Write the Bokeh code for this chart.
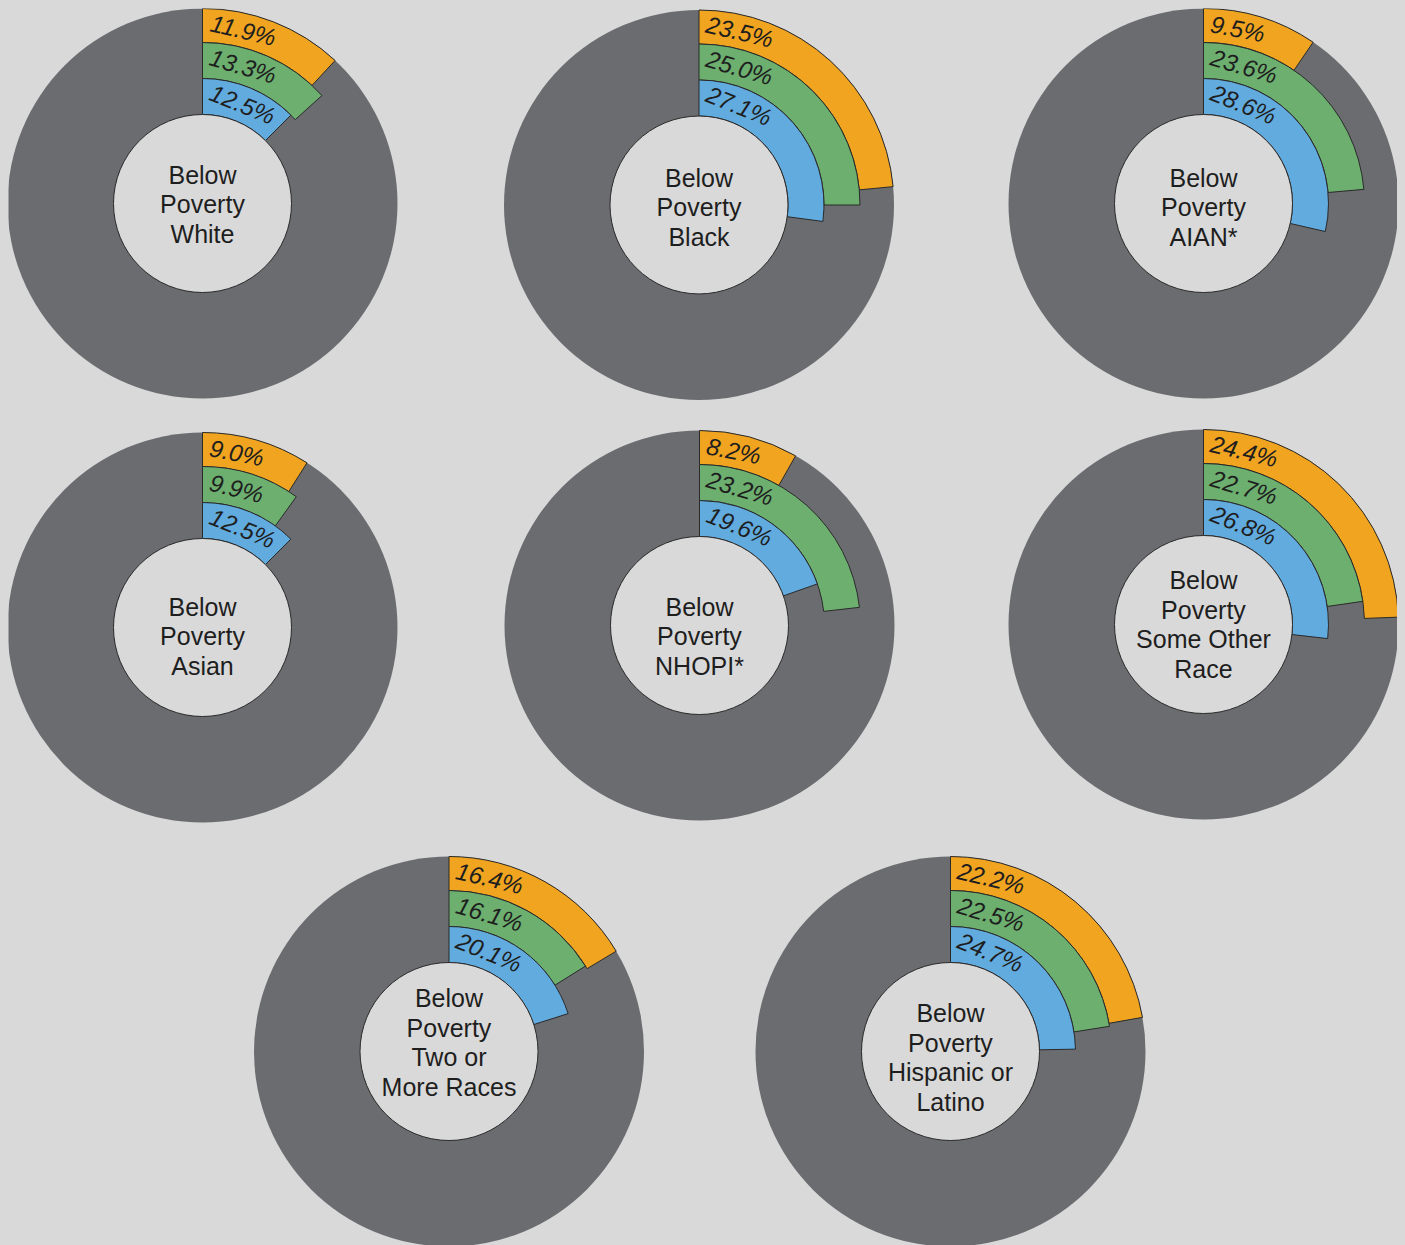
import math
from bokeh.plotting import figure
from bokeh.models import Range1d, ColumnDataSource
from bokeh.core.properties import value
from bokeh.embed import file_html
from bokeh.resources import INLINE

# ---------------- data ----------------
groups = ["White", "Black", "AIAN*", "Asian", "NHOPI*",
          "Some Other Race", "Two or More Races", "Hispanic or Latino"]
center_labels = [
    "Below\nPoverty\nWhite",
    "Below\nPoverty\nBlack",
    "Below\nPoverty\nAIAN*",
    "Below\nPoverty\nAsian",
    "Below\nPoverty\nNHOPI*",
    "Below\nPoverty\nSome Other\nRace",
    "Below\nPoverty\nTwo or\nMore Races",
    "Below\nPoverty\nHispanic or\nLatino",
]
# inner ring (blue), middle ring (green), outer ring (orange), percent below poverty
blue_pct = [12.5, 27.1, 28.6, 12.5, 19.6, 26.8, 20.1, 24.7]
green_pct = [13.3, 25.0, 23.6, 9.9, 23.2, 22.7, 16.1, 22.5]
orange_pct = [11.9, 23.5, 9.5, 9.0, 8.2, 24.4, 16.4, 22.2]

# ---------------- layout / style ----------------
cx = [202, 698.5, 1203, 202, 699, 1203, 448.5, 950]
cy = [203, 204.5, 203, 627, 625, 624, 1051, 1051]
text_cy = [204, 207, 207, 636, 636, 624, 1042, 1057]
radii = [89, 125, 161, 195]
BG = "#d9d9d9"
DARK = "#6b6c70"
ring_colors = ["#61abdf", "#6caf6f", "#f1a41f"]
EDGE = "#2a2a2a"
TXT = "#1e1e1e"
FS = 24
FS_C = 25
W, H = 1389, 1237

p = figure(width=W, height=H, output_backend="svg", toolbar_location=None,
           x_range=Range1d(8, 8 + W), y_range=Range1d(-(8 + H), -8),
           min_border=0, x_axis_location=None, y_axis_location=None)
p.grid.visible = False
p.outline_line_color = None
p.background_fill_color = BG
p.border_fill_color = BG

ys = [-v for v in cy]

# full dark circles
p.circle(x=cx, y=ys, radius=radii[3], fill_color=DARK, line_color=None)

series = [blue_pct, green_pct, orange_pct]


def est_width(s, fs):
    w = 0.0
    for ch in s:
        if ch.isdigit():
            w += 0.556
        elif ch == ".":
            w += 0.278
        elif ch == "%":
            w += 0.889
        else:
            w += 0.5
    return w * fs


for k in (2, 1, 0):
    vals = series[k]
    r_in, r_out = radii[k], radii[k + 1]
    src = ColumnDataSource(dict(
        x=cx, y=ys,
        start=[math.pi / 2 - v / 100 * 2 * math.pi for v in vals],
        end=[math.pi / 2] * len(vals),
    ))
    p.annular_wedge(x="x", y="y", inner_radius=r_in, outer_radius=r_out,
                    start_angle="start", end_angle="end", direction="anticlock",
                    fill_color=ring_colors[k], line_color=EDGE, line_width=1,
                    source=src)

# inner circles
p.circle(x=cx, y=ys, radius=radii[0], fill_color=BG, line_color=EDGE, line_width=1)

# ring labels
pad = 7
for k in range(3):
    vals = series[k]
    r_mid = (radii[k] + radii[k + 1]) / 2
    lx, ly, la, lt = [], [], [], []
    for i, v in enumerate(vals):
        s = f"{v:.1f}%"
        L = est_width(s, FS)
        th = (pad + L / 2) / r_mid
        lx.append(cx[i] + r_mid * math.sin(th))
        ly.append(ys[i] + r_mid * math.cos(th))
        la.append(-th)
        lt.append(s)
    p.text(x=lx, y=ly, text=lt, angle=la, text_font=value("Liberation Sans"),
           text_font_style="italic", text_font_size=f"{FS}px", text_color=TXT,
           text_align="center", text_baseline="middle")

# center labels
p.text(x=cx, y=[-v for v in text_cy], text=center_labels,
       text_font=value("Liberation Sans"), text_font_size=f"{FS_C}px",
       text_color=TXT, text_align="center", text_baseline="middle",
       text_line_height=1.05)

html = file_html(p, INLINE)
head_end = html.find("</head>")
body_at = html.find("<body", head_end)
body_close = html.find(">", body_at)
html = (html[:body_at]
        + '<body style="margin:8px;background-color:#d9d9d9;overflow:hidden">'
        + html[body_close + 1:])
open("out.html", "w").write(html)
